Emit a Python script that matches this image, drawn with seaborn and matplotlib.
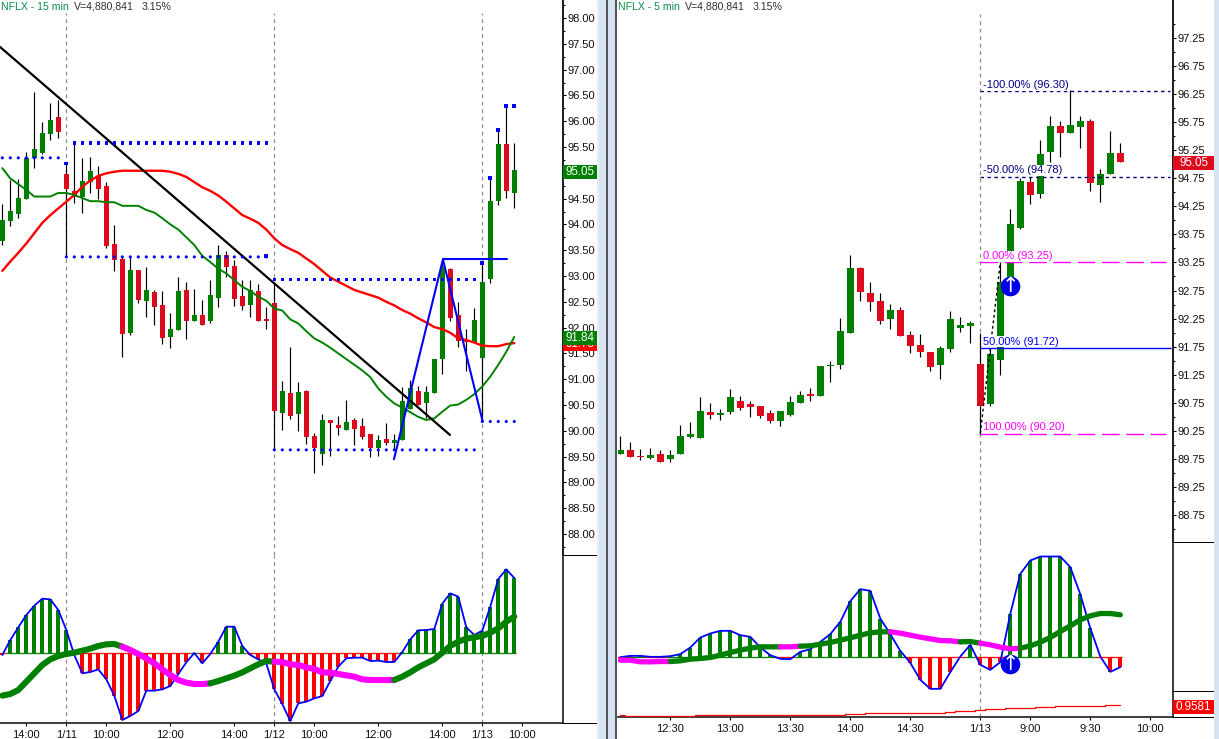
import numpy as np
import pandas as pd
import seaborn as sns
import matplotlib
matplotlib.use("Agg")
import matplotlib.pyplot as plt
from matplotlib.patches import Rectangle

# ---------- 15 minute chart ----------
open_15 = [93.685,94.07,94.21,94.5,95.28,95.38,95.75,96.08,94.98,94.64,94.54,94.82,94.94,94.74,93.62,93.33,91.90,93.12,92.52,92.69,92.44,91.82,91.95,92.73,92.13,92.24,92.13,92.57,93.41,93.19,92.61,92.44,92.71,92.16,
           92.48,90.35,90.73,90.33,90.77,89.90,89.55,90.21,90.11,90.02,90.21,90.09,89.94,89.67,89.84,89.76,89.82,90.42,90.77,90.54,90.73,91.39,93.14,92.24,91.76,91.70,91.41,92.94,94.46,95.56,94.61]
close_15 = [94.085,94.26,94.51,95.29,95.47,95.77,96.02,95.80,94.69,94.54,94.84,95.04,94.69,93.58,93.31,91.88,93.12,92.54,92.73,92.40,91.80,91.97,92.71,92.13,92.24,92.05,92.63,93.41,93.17,92.55,92.42,92.73,92.13,92.13,
            90.38,90.77,90.29,90.75,89.88,89.67,90.21,90.15,90.05,90.17,90.03,89.88,89.67,89.82,89.76,89.82,90.58,90.83,90.50,90.75,91.39,93.18,92.19,91.74,91.73,92.15,92.88,94.45,95.56,94.65,95.05]
high_15 = [94.395,94.86,94.88,95.40,96.57,95.99,96.35,96.41,95.18,95.60,95.29,95.31,95.13,94.82,93.99,93.37,93.37,93.12,93.17,92.73,92.71,92.28,92.98,92.88,92.75,92.54,92.92,93.60,93.48,93.31,92.92,92.92,92.85,92.40,
           92.86,90.97,91.62,90.95,90.79,89.96,90.33,90.21,90.29,90.60,90.25,90.25,89.94,89.92,90.15,89.94,90.85,90.98,90.87,90.87,91.39,93.31,93.16,92.50,91.97,92.38,93.25,94.90,95.83,96.29,95.58]
low_15 = [93.601,93.97,94.12,94.5,95.09,95.37,95.64,95.67,93.37,94.42,94.23,94.61,94.49,93.54,93.10,91.43,91.86,92.48,92.21,92.05,91.68,91.61,91.95,91.78,92.13,92.05,92.09,92.40,92.98,92.42,92.34,92.21,92.13,91.97,
          89.63,90.02,90.23,90.00,89.74,89.18,89.34,89.51,89.92,90.02,89.73,89.84,89.49,89.51,89.73,89.63,89.82,90.42,90.50,90.25,90.73,91.10,92.13,91.62,91.16,91.70,90.27,92.86,94.38,94.51,94.32]
ma_red_15 = [93.10,93.28,93.45,93.63,93.83,94.03,94.18,94.31,94.44,94.57,94.73,94.85,94.94,94.99,95.02,95.04,95.04,95.04,95.04,95.04,95.04,95.02,94.98,94.92,94.82,94.72,94.65,94.56,94.44,94.31,94.18,94.11,94.03,93.90,93.73,93.60,
             93.52,93.45,93.34,93.23,93.10,92.97,92.89,92.81,92.73,92.68,92.63,92.58,92.50,92.43,92.34,92.27,92.18,92.10,92.01,91.97,91.90,91.79,91.76,91.71,91.65,91.64,91.64,91.68,91.70]
ma_green_15 = [95.09,94.89,94.78,94.67,94.54,94.54,94.54,94.61,94.61,94.57,94.51,94.45,94.45,94.43,94.43,94.36,94.36,94.36,94.28,94.23,94.12,94.00,93.90,93.75,93.60,93.39,93.27,93.14,93.05,92.92,92.79,92.71,92.60,92.52,92.37,92.33,
               92.16,92.08,91.93,91.79,91.71,91.61,91.50,91.39,91.28,91.17,91.04,90.82,90.66,90.53,90.45,90.36,90.27,90.21,90.24,90.37,90.49,90.51,90.60,90.71,90.86,91.05,91.28,91.53,91.82]
osc_15 = [-0.05,0.40,0.78,1.15,1.43,1.64,1.62,1.30,0.70,-0.05,-0.60,-0.56,-0.48,-0.78,-1.27,-2.00,-1.88,-1.73,-1.12,-1.12,-1.08,-0.98,-0.62,-0.27,0.01,-0.30,-0.02,0.35,0.80,0.80,0.22,-0.05,-0.18,-0.30,-1.08,-1.52,-2.03,-1.50,
          -1.45,-1.35,-1.28,-0.83,-0.40,-0.15,-0.13,-0.13,-0.23,-0.22,-0.26,-0.26,0.04,0.42,0.69,0.70,0.73,1.49,1.80,1.70,0.78,0.55,0.68,1.40,2.23,2.52,2.26]
sig_15 = [-1.27,-1.22,-1.10,-0.85,-0.60,-0.35,-0.18,-0.08,-0.02,0.02,0.08,0.14,0.22,0.27,0.28,0.20,0.10,-0.02,-0.15,-0.30,-0.48,-0.65,-0.80,-0.88,-0.92,-0.92,-0.90,-0.83,-0.75,-0.67,-0.57,-0.45,-0.33,-0.23,-0.25,-0.26,-0.33,-0.35,
          -0.42,-0.47,-0.57,-0.58,-0.62,-0.66,-0.70,-0.78,-0.80,-0.80,-0.80,-0.80,-0.70,-0.57,-0.42,-0.30,-0.18,0.02,0.22,0.35,0.44,0.48,0.52,0.62,0.75,0.95,1.10]
sig_colors_15 = [(0,15,"#008000"),(15,26,"#FF00FF"),(26,34,"#008000"),(34,49,"#FF00FF"),(49,64,"#008000")]
# dotted support/resistance levels: level, first bar, last bar, marker
levels_15 = [95.29, 95.58, 93.37, 92.93, 89.63, 90.18]
level_first_15 = [0, 9, 8, 34, 34, 60]
level_last_15 = [7, 33, 33, 59, 59, 64]
level_marker_15 = ["o", "s", "o", "s", "o", "o"]
peak_bars_15 = [8, 33, 60, 61, 62, 63, 64]
peak_vals_15 = [95.18, 93.38, 93.25, 94.90, 95.83, 96.29, 96.29]
trend_bars = [-0.29, 55.96]
trend_vals = [97.44, 89.92]
zigzag_bars = [48.96, 55.08, 60.05]
zigzag_vals = [89.45, 93.32, 90.18]
flat_bars = [55.08, 63.05]
flat_vals = [93.33, 93.33]
ticks_15 = [3, 8, 13, 21, 29, 34, 39, 47, 55, 60, 65]
ticklabels_15 = ["14:00", "1/11", "10:00", "12:00", "14:00", "1/12", "10:00", "12:00", "14:00", "1/13", "10:00"]
days_15 = [8, 34, 60]

# ---------- 5 minute chart ----------
open_5 = [89.835,89.907,89.80,89.76,89.835,89.746,89.835,90.14,90.12,90.584,90.53,90.584,90.78,90.73,90.69,90.566,90.424,90.53,90.744,90.905,90.87,91.404,91.42,91.99,93.15,92.705,92.56,92.24,92.40,91.96,91.78,91.654,91.42,91.707,92.08,92.117,
          91.44,90.73,91.51,92.88,93.865,94.685,94.47,95.22,95.68,95.56,95.665,95.77,94.63,94.83,95.20]
close_5 = [89.907,89.782,89.78,89.82,89.693,89.817,90.156,90.19,90.60,90.53,90.566,90.85,90.655,90.673,90.513,90.424,90.60,90.762,90.887,90.87,91.404,91.42,92.03,93.15,92.72,92.545,92.206,92.40,91.94,91.76,91.654,91.386,91.725,92.24,92.135,92.17,
           90.69,91.62,92.91,93.936,94.70,94.45,95.18,95.68,95.56,95.70,95.77,94.67,94.83,95.20,95.04]
high_5 = [90.156,90.05,89.925,89.94,89.907,89.907,90.35,90.406,90.85,90.745,90.637,90.994,90.87,90.78,90.69,90.62,90.60,90.87,90.96,91.01,91.404,91.49,92.26,93.38,93.17,92.90,92.705,92.51,92.456,92.03,91.97,91.654,91.76,92.384,92.28,92.206,
          91.99,91.72,93.25,94.20,94.75,94.78,95.43,95.86,95.77,96.32,95.86,95.81,94.92,95.59,95.38]
low_5 = [89.835,89.782,89.73,89.746,89.693,89.693,89.835,90.12,90.12,90.46,90.44,90.55,90.62,90.495,90.477,90.388,90.334,90.513,90.744,90.78,90.87,91.12,91.35,91.99,92.56,92.38,92.15,92.06,91.94,91.636,91.564,91.315,91.17,91.654,92.01,91.81,
         90.20,90.70,91.25,92.82,93.85,94.29,94.40,95.04,95.13,95.56,95.29,94.52,94.33,94.83,95.04]
osc_5 = [-0.02,0.02,0.02,-0.01,-0.01,0.01,0.07,0.27,0.57,0.69,0.77,0.77,0.64,0.59,0.27,0.04,-0.07,-0.08,0.14,0.22,0.44,0.67,1.04,1.66,2.02,1.97,1.14,0.67,0.17,-0.19,-0.70,-0.97,-0.97,-0.47,0.00,0.35,-0.25,-0.40,-0.17,1.28,2.48,2.88,3.00,3.00,3.00,2.68,1.87,0.85,0.00,-0.46,-0.32]
sig_5 = [-0.11,-0.11,-0.16,-0.16,-0.15,-0.15,-0.13,-0.08,-0.06,-0.03,0.04,0.12,0.19,0.25,0.29,0.29,0.29,0.29,0.31,0.32,0.37,0.42,0.49,0.56,0.64,0.71,0.74,0.74,0.70,0.64,0.58,0.53,0.48,0.47,0.44,0.45,0.40,0.35,0.28,0.23,0.25,0.32,0.43,0.57,0.75,0.92,1.10,1.22,1.29,1.29,1.25]
sig_colors_5 = [(0,5,"#FF00FF"),(5,16,"#008000"),(16,18,"#FF00FF"),(18,27,"#008000"),(27,34,"#FF00FF"),(34,36,"#008000"),(36,40,"#FF00FF"),(40,50,"#008000")]
lower_5 = [-1.74,-1.78,-1.78,-1.78,-1.78,-1.78,-1.78,-1.78,-1.74,-1.74,-1.74,-1.74,-1.74,-1.74,-1.74,-1.74,-1.74,-1.74,-1.74,-1.74,-1.74,-1.74,-1.74,-1.71,-1.71,-1.68,-1.68,-1.68,-1.68,-1.68,-1.68,-1.68,-1.68,-1.66,-1.64,-1.64,-1.60,-1.56,-1.56,-1.53,-1.53,-1.53,-1.50,-1.50,-1.49,-1.49,-1.47,-1.47,-1.47,-1.46,-1.46]
fib_vals = [96.30, 94.78, 93.25, 91.72, 90.20]
fib_pcts = ["-100.00%", "-50.00%", "0.00%", "50.00%", "100.00%"]
fib_colors = ["#000080", "#000080", "#FF00FF", "#0000FF", "#FF00FF"]
fib_dashes = [(0, (2.5, 2.5)), (0, (2.5, 2.5)), (0, (12.7, 4.8)), "-", (0, (12.7, 4.8))]
fib_start = 36
fib_ends = [54.95, 54.95, 54.6, 55.05, 54.6]
swing_bars = [36, 38]
swing_vals = [90.20, 93.25]
signal_bar = 39
signal_price = 92.83
signal_osc = -0.23
ticks_5 = [5, 11, 17, 23, 29, 36, 41, 47, 53]
ticklabels_5 = ["12:30", "13:00", "13:30", "14:00", "14:30", "1/13", "9:00", "9:30", "10:00"]

W, H = 1219, 739
sns.set_theme(style="white")
plt.rcParams["font.family"] = ["Liberation Sans", "DejaVu Sans"]
plt.rcParams["font.size"] = 8
fig = plt.figure(figsize=(W / 100, H / 100), dpi=100, facecolor="white")
GREEN, CRED, RED, MAG, BLUE = "#008000", "#DE0A1E", "#FF0000", "#FF00FF", "#0000FF"
FS = 8.0


def px_axes(x0, y0, x1, y1):
    return fig.add_axes([x0 / W, 1 - y1 / H, (x1 - x0) / W, (y1 - y0) / H], facecolor="none")


def rect(x0, y0, x1, y1, color, z=1):
    fig.add_artist(Rectangle((x0 / W, 1 - y1 / H), (x1 - x0) / W, (y1 - y0) / H, color=color, lw=0,
                             transform=fig.transFigure, zorder=z))


def box(x0, y0, x1, y1, color, label, z=2):
    rect(x0, y0, x1, y1, color, z)
    fig.text((x0 + x1) / 2 / W, 1 - (y0 + y1) / 2 / H, label, color="white", fontsize=FS + 0.4,
             ha="center", va="center", zorder=z + 0.5)


def candles(ax, o, h, l, c, width):
    x = np.arange(len(o))
    o, h, l, c = map(np.array, (o, h, l, c))
    col = [GREEN if cc >= oo else CRED for oo, cc in zip(o, c)]
    ax.vlines(x, l, h, color="black", lw=0.85, zorder=3)
    ax.bar(x, np.maximum(np.abs(c - o), 0.02), bottom=np.minimum(o, c), width=width, color=col, lw=0,
           antialiased=False, zorder=4)


def line(ax, x, y, color, lw, z=5, **kw):
    df = pd.DataFrame({"x": x, "y": y})
    sns.lineplot(data=df, x="x", y="y", ax=ax, color=color, lw=lw, zorder=z, estimator=None,
                 errorbar=None, legend=False, sort=False, **kw)
    ax.set_xlabel("")
    ax.set_ylabel("")


def price_style(ax, major, minor, hidden=()):
    for s in ("top", "left", "bottom"):
        ax.spines[s].set_visible(False)
    ax.spines["right"].set_color("black")
    ax.yaxis.tick_right()
    ax.set_yticks(major)
    ax.set_yticklabels(["" if f"{v:.2f}" in hidden else f"{v:.2f}" for v in major], fontsize=FS, color="#101010")
    ax.set_yticks(minor, minor=True)
    ax.tick_params(axis="y", which="major", right=True, length=2.5, width=0.8, pad=0.4, color="black")
    ax.tick_params(axis="y", which="minor", right=True, length=1.6, width=0.8, color="black")
    ax.set_xticks([])


def osc_style(ax, ticks, labels):
    for s in ("top", "left"):
        ax.spines[s].set_visible(False)
    ax.set_yticks([])
    ax.set_xticks(ticks)
    ax.set_xticklabels(labels, fontsize=FS, color="#101010")
    ax.tick_params(axis="x", bottom=True, length=2, width=0.8, pad=3, color="black")


def oscillator(ax, osc, sig, segs, barw, lw):
    x = np.arange(len(osc))
    osc = np.array(osc)
    col = [GREEN if v > 0 else RED for v in osc]
    ax.bar(x, osc, width=barw, color=col, lw=0, antialiased=False, zorder=2)
    right = x + 0.5
    right[-1] = x[-1] + barw / 2
    ax.hlines(np.zeros(len(x)), x - 0.5, right, colors=col, lw=0.95, zorder=2)
    line(ax, x, osc, BLUE, 1.3, z=4)
    sig = np.array(sig)
    for a, b, c in segs:
        idx = np.arange(a, b + 1)
        line(ax, idx, sig[idx], c, lw, z=5, solid_capstyle="round")


def day_lines(ax, days, ymax=1.0):
    for d in days:
        ax.axvline(d, ymin=0, ymax=ymax, color="#8C8C8C", lw=0.9, ls=(0, (3, 3)), zorder=1)


def signal(ax, bar, val):
    ax.scatter([bar], [val], s=200, color="#0000E6", lw=0, zorder=8)
    ax.text(bar, val, "\u2191", color="white", fontsize=15, ha="center", va="center",
            family="DejaVu Sans", zorder=9)


# ---------- left price pane ----------
ax1 = px_axes(0, 0, 563, 555)
ax1.set_xlim(-0.29, 70.09)
ax1.set_ylim(87.593, 98.349)
candles(ax1, open_15, high_15, low_15, close_15, 0.62)
x15 = np.arange(len(open_15))
line(ax1, x15, ma_red_15, RED, 1.7, z=6)
line(ax1, x15, ma_green_15, GREEN, 1.4, z=6)
line(ax1, trend_bars, trend_vals, "black", 1.6, z=7)
line(ax1, zigzag_bars, zigzag_vals, BLUE, 1.5, z=7)
line(ax1, flat_bars, flat_vals, BLUE, 1.5, z=7)
for lv, a, b, m in zip(levels_15, level_first_15, level_last_15, level_marker_15):
    xs = np.arange(a, b + 1)
    sns.scatterplot(x=xs, y=np.full(len(xs), lv), ax=ax1, color=BLUE, marker=m, s=6 if m == "s" else 5,
                    linewidth=0, edgecolor="none", zorder=8, legend=False)
sns.scatterplot(x=peak_bars_15, y=peak_vals_15, ax=ax1, color=BLUE, marker="s", s=8,
                linewidth=0, edgecolor="none", zorder=8, legend=False)
ax1.set_xlabel("")
ax1.set_ylabel("")
day_lines(ax1, days_15, ymax=(555 - 13) / 555)
price_style(ax1, np.arange(88, 98.01, 0.5), np.arange(87.75, 98.3, 0.5), hidden=("95.00",))

# ---------- left oscillator pane ----------
ax2 = px_axes(0, 555, 563, 723)
ax2.set_xlim(-0.29, 70.09)
ax2.set_ylim(-2.09, 2.95)
oscillator(ax2, osc_15, sig_15, sig_colors_15, 0.5, 4.4)
day_lines(ax2, days_15)
osc_style(ax2, ticks_15, ticklabels_15)

# ---------- right price pane ----------
ax3 = px_axes(618, 0, 1173, 542)
ax3.set_xlim(-0.23, 55.27)
ax3.set_ylim(88.267, 97.929)
candles(ax3, open_5, high_5, low_5, close_5, 0.7)
line(ax3, swing_bars, swing_vals, "black", 1.0, z=5, ls=(0, (2, 2)))
day_lines(ax3, [fib_start], ymax=(542 - 14) / 542)
for v, pct, c, ds, end in zip(fib_vals, fib_pcts, fib_colors, fib_dashes, fib_ends):
    ax3.hlines(v, fib_start, end, color=c, lw=1.0, ls=ds, zorder=6)
    ax3.annotate(f"{pct} ({v:.2f})", xy=(fib_start, v), xytext=(2, 1.0), textcoords="offset points",
                 fontsize=FS, color=c, ha="left", va="bottom", zorder=7,
                 bbox=dict(facecolor="white", edgecolor="none", pad=0.4))
signal(ax3, signal_bar, signal_price)
price_style(ax3, np.arange(88.75, 97.3, 0.5), np.arange(88.5, 97.8, 0.5))

# ---------- right oscillator pane ----------
ax4 = px_axes(618, 542, 1173, 717)
ax4.set_xlim(-0.23, 55.27)
ax4.set_ylim(-1.815, 3.435)
oscillator(ax4, osc_5, sig_5, sig_colors_5, 0.4, 3.8)
line(ax4, np.arange(len(lower_5)), lower_5, RED, 0.9, z=3, drawstyle="steps-mid")
day_lines(ax4, [fib_start])
signal(ax4, signal_bar, signal_osc)
osc_style(ax4, ticks_5, ticklabels_5)

# ---------- frame parts ----------
rect(563, 555, 597, 556, "black")
rect(563, 723, 597, 724, "black")
rect(1173, 542, 1214, 543, "black")
rect(1173, 691, 1214, 692, "black")
rect(1173, 717, 1214, 718, "black")
rect(597, 0, 599, H, "#EDEDED")
rect(599, 0, 606, H, "#D6E4F2")
rect(606, 0, 608, H, "#555555")
rect(608, 0, 615, H, "#D6E4F2")
rect(615, 0, 617, H, "#555555")
rect(1214, 0, W, H, "#D6E4F2")

# price boxes
box(563, 337, 597, 351, RED, "91.73", z=2)
box(563, 331, 597, 345, GREEN, "91.84", z=3)
box(563, 165, 597, 179, GREEN, "95.05", z=3)
box(1173, 156, 1214, 170, CRED, "95.05", z=3)
box(1173, 700, 1214, 714, RED, "0.9581", z=3)

# header text
for x, s, c in [(1, "NFLX - 15 min", "#0A8A4A"), (74, "V=4,880,841", "#303030"), (142, "3.15%", "#303030"),
                (618, "NFLX - 5 min", "#0A8A4A"), (685, "V=4,880,841", "#303030"), (753, "3.15%", "#303030")]:
    fig.text(x / W, 1 - 6.5 / H, s, color=c, fontsize=7.6, ha="left", va="center", zorder=5)

fig.savefig("out.png", dpi=100, facecolor="white")
